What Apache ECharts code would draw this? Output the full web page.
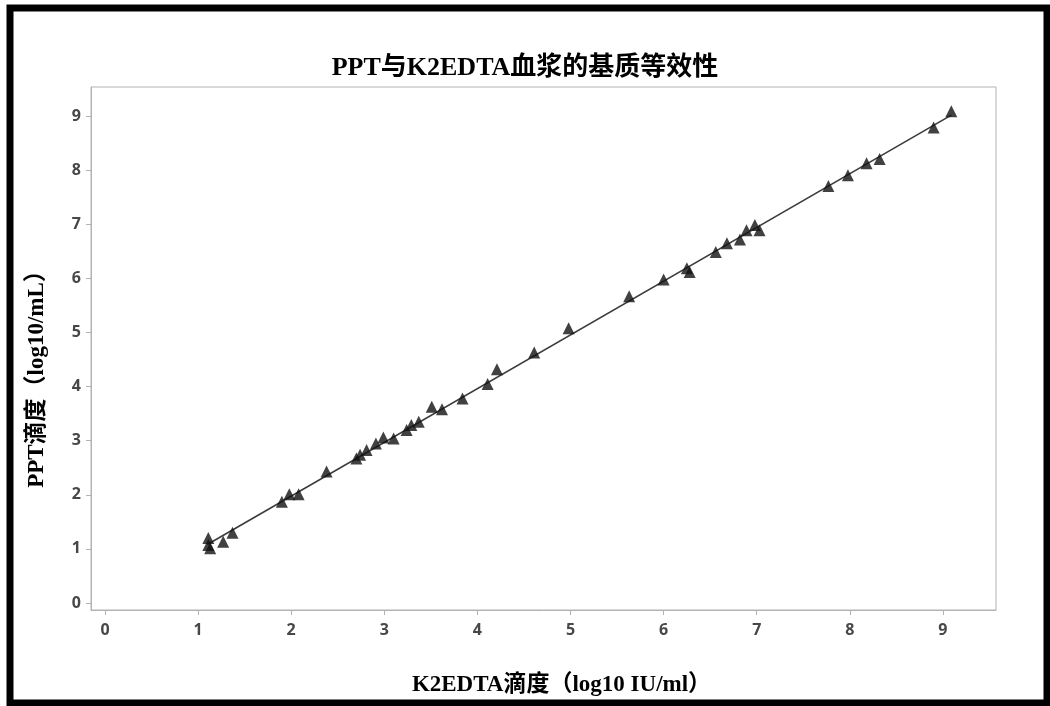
<!DOCTYPE html>
<html>
<head>
<meta charset="utf-8">
<script src="https://cdn.jsdelivr.net/npm/echarts@6/dist/echarts.min.js"></script>
<style>
  html, body { margin: 0; padding: 0; background: #fff; }
  #chart { width: 1050px; height: 706px; }
</style>
</head>
<body>
<div id="chart"></div>
<script>
// K2EDTA 滴度 (x) 与 PPT 滴度 (y)，log10
const k2edta = [1.11, 1.11, 1.13, 1.27, 1.37, 1.90, 1.98, 2.08, 2.38, 2.70, 2.74, 2.81,
  2.91, 2.99, 3.10, 3.24, 3.29, 3.37, 3.51, 3.62, 3.84, 4.11, 4.21, 4.61, 4.98, 5.63,
  6.00, 6.25, 6.28, 6.56, 6.68, 6.82, 6.89, 6.98, 7.03, 7.77, 7.98, 8.18, 8.32, 8.90, 9.09]
const ppt = [1.20, 1.07, 1.01, 1.13, 1.30, 1.87, 2.01, 2.01, 2.43, 2.67, 2.74, 2.83,
  2.95, 3.06, 3.04, 3.20, 3.29, 3.35, 3.63, 3.58, 3.78, 4.05, 4.32, 4.63, 5.08, 5.67,
  5.98, 6.19, 6.12, 6.49, 6.65, 6.72, 6.89, 6.99, 6.89, 7.71, 7.91, 8.13, 8.21, 8.79, 9.09]
// 回归线端点
const fitX = [1.10, 9.09]
const fitY = [1.08, 9.02]
const xTicks = [0, 1, 2, 3, 4, 5, 6, 7, 8, 9]
const yTicks = [0, 1, 2, 3, 4, 5, 6, 7, 8, 9]

const myChart = echarts.init(document.getElementById('chart'))

const serifFont = '"Liberation Serif", "Times New Roman", "Noto Sans CJK SC", serif'
const tickFont = '"Open Sans", "DejaVu Sans", sans-serif'
const greyLine = '#b3b3b3'

const option = {
    animation: false,
    backgroundColor: '#fff',
    title: {
        text: 'PPT与K2EDTA血浆的基质等效性',
        left: 'center',
        top: 50,
        textStyle: {
            fontFamily: serifFont,
            fontSize: 26,
            fontWeight: 'bold',
            color: '#000'
        }
    },
    graphic: [{
        // 外框
        type: 'rect',
        shape: { x: 10, y: 8, width: 1037, height: 695 },
        style: { fill: 'none', stroke: '#000', lineWidth: 7 },
        silent: true
    }],
    grid: {
        left: 91,
        top: 87,
        right: 54,
        bottom: 96,
        show: true,
        borderColor: greyLine,
        borderWidth: 1
    },
    xAxis: {
        type: 'value',
        min: -0.15,
        max: 9.57,
        name: 'K2EDTA滴度（log10 IU/ml）',
        nameLocation: 'middle',
        nameGap: 64,
        nameTextStyle: {
            fontFamily: serifFont,
            fontSize: 23,
            fontWeight: 'bold',
            color: '#000',
            padding: [0, 0, 0, 36]
        },
        axisLine: { show: true, onZero: false, lineStyle: { color: greyLine } },
        axisTick: {
            show: true,
            inside: false,
            length: 5,
            customValues: xTicks,
            lineStyle: { color: greyLine }
        },
        axisLabel: {
            customValues: xTicks,
            margin: 12,
            fontFamily: tickFont,
            fontSize: 16,
            fontWeight: 'bold',
            color: '#474747'
        },
        splitLine: { show: false }
    },
    yAxis: {
        type: 'value',
        min: -0.13,
        max: 9.54,
        name: 'PPT滴度（log10/mL）',
        nameLocation: 'middle',
        nameGap: 42,
        nameRotate: 90,
        nameTextStyle: {
            fontFamily: serifFont,
            fontSize: 23,
            fontWeight: 'bold',
            color: '#000',
            padding: [0, 50, 0, 0]
        },
        axisLine: { show: true, onZero: false, lineStyle: { color: greyLine } },
        axisTick: {
            show: true,
            inside: false,
            length: 5,
            customValues: yTicks,
            lineStyle: { color: greyLine }
        },
        axisLabel: {
            customValues: yTicks,
            margin: 10,
            fontFamily: tickFont,
            fontSize: 16,
            fontWeight: 'bold',
            color: '#474747'
        },
        splitLine: { show: false }
    },
    series: [
        {
            type: 'line',
            data: fitX.map((x, i) => [x, fitY[i]]),
            symbol: 'none',
            lineStyle: { color: '#3c3c3c', width: 1.6 },
            z: 2
        },
        {
            type: 'scatter',
            data: k2edta.map((x, i) => [x, ppt[i]]),
            symbol: 'triangle',
            symbolSize: 12,
            itemStyle: { color: '#111' },
            z: 3
        }
    ]
}
myChart.setOption(option)
</script>
</body>
</html>
